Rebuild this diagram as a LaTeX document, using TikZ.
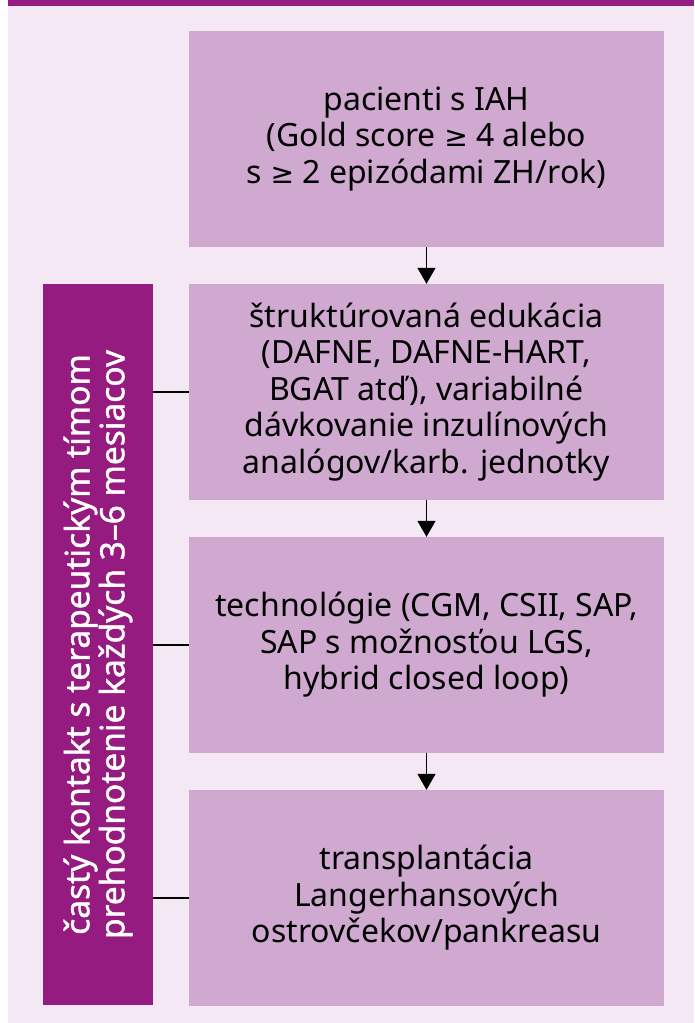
\documentclass[tikz,border=0pt]{standalone}
\usepackage{fontspec}
\setmainfont{Noto Sans}
\newfontfamily\symfont[Scale=0.88]{DejaVu Sans}
\newfontfamily\barfont[FakeBold=1.2]{Noto Sans}
\newcommand{\atleast}{{\symfont ≥}}
\usetikzlibrary{arrows.meta}

\definecolor{bandpurple}{HTML}{951B81}
\definecolor{panelbg}{HTML}{F4E8F5}
\definecolor{boxfill}{HTML}{D0A9D1}

\tikzset{
  stepbox/.style={fill=boxfill, minimum width=475pt, minimum height=216pt,
    inner sep=0pt, align=center, font=\fontsize{32}{36.5}\selectfont},
  teambar/.style={fill=bandpurple, minimum width=110pt, minimum height=721pt, inner sep=0pt},
  flow/.style={line width=1.6pt, -{Triangle[width=18pt,length=16pt]}},
  tie/.style={line width=1.6pt}
}

\begin{document}
\begin{tikzpicture}[x=1pt,y=-1pt]
\useasboundingbox (0,0) rectangle (694,1023);

% Panel
\fill[panelbg] (8,0) rectangle (694,1023);
\fill[bandpurple] (8,0) rectangle (694,6);

% Steps
\node[stepbox] (iah) at (426.5,139) {pacienti s IAH\\(Gold score \atleast{} 4 alebo\\s \atleast{} 2 epizódami ZH/rok)};
\node[stepbox] (edu) at (426.5,392) {štruktúrovaná edukácia\\(DAFNE, DAFNE-HART,\\BGAT atď), variabilné\\dávkovanie inzulínových\\analógov/karb. jednotky};
\node[stepbox] (tech) at (426.5,645) {technológie (CGM, CSII, SAP,\\SAP s možnosťou LGS,\\hybrid closed loop)};
\node[stepbox] (transpl) at (426.5,898) {transplantácia\\Langerhansových\\ostrovčekov/pankreasu};

% Team bar
\node[teambar] (team) at (98,644.5) {};
\node[rotate=90, text=white, align=center, font=\barfont\fontsize{33.5}{35}\selectfont] (teamtext) at (team.center)
  {častý kontakt s terapeutickým tímom\\prehodnotenie každých 3–6 mesiacov};

% Arrows
\draw[flow] (iah) -- (edu);
\draw[flow] (edu) -- (tech);
\draw[flow] (tech) -- (transpl);

% Ties to bar
\draw[tie] (team.east |- edu.west) -- (edu.west);
\draw[tie] (team.east |- tech.west) -- (tech.west);
\draw[tie] (team.east |- transpl.west) -- (transpl.west);

\end{tikzpicture}
\end{document}
